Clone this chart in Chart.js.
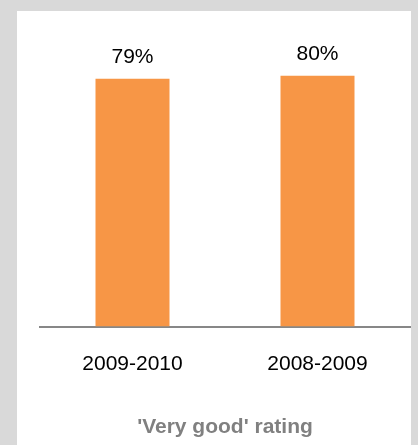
<!DOCTYPE html>
<html>
<head>
<meta charset="utf-8">
<script src="https://cdn.jsdelivr.net/npm/chart.js@4"></script>
<style>
  html, body { margin: 0; padding: 0; background: #d9d9d9; }
  body { width: 418px; height: 445px; position: relative; overflow: hidden; }
  #panel { position: absolute; left: 17px; top: 11px; width: 394px; height: 434px; background: #ffffff; }
  #chart { display: block; }
</style>
</head>
<body>
<div id="panel"><canvas id="chart" width="394" height="434"></canvas></div>
<script>
// School years and share of 'very good' ratings (%)
const categories = ['2009-2010', '2008-2009'];
const veryGoodShare = [79, 80];
const axisMax = 100;
const chartTitle = "'Very good' rating";

const FONT = '"Liberation Sans", Arial, Helvetica, sans-serif';

// Writes the percentage above each bar, using the bar's own position
const valueLabels = {
  id: 'valueLabels',
  afterDatasetsDraw(chart) {
    const ctx = chart.ctx;
    const meta = chart.getDatasetMeta(0);
    ctx.save();
    ctx.font = '21px ' + FONT;
    ctx.fillStyle = '#000000';
    ctx.textAlign = 'center';
    ctx.textBaseline = 'alphabetic';
    meta.data.forEach((bar, i) => {
      ctx.fillText(veryGoodShare[i] + '%', bar.x, bar.y - 16);
    });
    ctx.restore();
  }
};

new Chart(document.getElementById('chart'), {
  type: 'bar',
  data: {
    labels: categories,
    datasets: [{
      data: veryGoodShare,
      backgroundColor: '#F79646',
      borderWidth: 0,
      barPercentage: 0.4,
      categoryPercentage: 1.0
    }]
  },
  options: {
    responsive: false,
    animation: false,
    devicePixelRatio: 1,
    layout: { padding: { left: 23, right: 1, top: 2, bottom: 0 } },
    plugins: {
      legend: { display: false },
      tooltip: { enabled: false },
      title: {
        display: true,
        text: chartTitle,
        position: 'bottom',
        color: '#808080',
        font: { family: FONT, size: 21, weight: 'bold' },
        padding: { top: 12.7, bottom: 5.4 }
      }
    },
    scales: {
      x: {
        grid: { display: false, drawTicks: false, tickLength: 0 },
        border: { display: true, color: '#878787', width: 2 },
        ticks: { color: '#000000', font: { family: FONT, size: 21 }, padding: 25, maxRotation: 0 }
      },
      y: {
        display: false,
        min: 0,
        max: axisMax
      }
    }
  },
  plugins: [valueLabels]
});
</script>
</body>
</html>
